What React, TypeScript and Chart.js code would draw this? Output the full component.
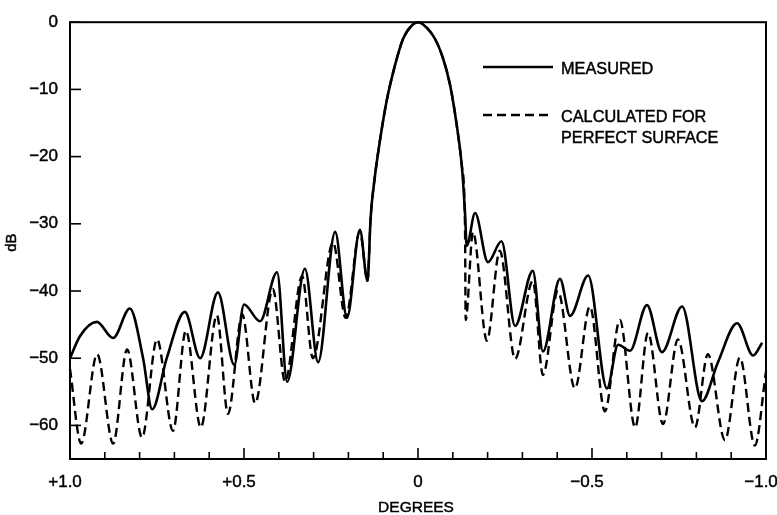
import React, { useEffect, useRef } from 'react';
import { Chart, registerables } from 'chart.js';

Chart.register(...registerables);

// Antenna pattern: degrees off axis (left = +1.0, right = -1.0) and level in dB
const measuredDeg = [
  1.0, 0.971, 0.923, 0.876, 0.828, 0.79, 0.764, 0.722, 0.67, 0.626, 0.575, 0.528, 0.5, 0.454,
  0.405, 0.376, 0.325, 0.287, 0.238, 0.204, 0.167, 0.145,
  0.136, 0.124, 0.109, 0.09, 0.066, 0.043, 0.014, 0, -0.014, -0.049, -0.072, -0.092, -0.111,
  -0.126, -0.135, -0.14,
  -0.164, -0.201, -0.24, -0.279, -0.33, -0.359, -0.408, -0.437, -0.489, -0.543, -0.575, -0.609,
  -0.658, -0.701, -0.759, -0.816, -0.862, -0.917, -0.963, -0.989,
];
const measuredDb = [
  -50, -46.7, -44.6, -47, -42.6, -50, -57.6, -50, -43.1, -50, -40.2, -51, -42, -44.5,
  -37.2, -53.5, -36.7, -50.6, -31.2, -44, -30.9, -38.5,
  -29, -23, -17.5, -11.7, -6.4, -2.5, -0.3, 0, -0.3, -2.5, -5.4, -9.3, -15.2,
  -21.4, -28.3, -33.3,
  -28.4, -35.7, -32.6, -45.2, -37, -49, -38.2, -43.7, -37.7, -54.5, -48, -48.9,
  -42.1, -49.1, -42.3, -56.4, -50.6, -44.8, -49.6, -47.7,
];

const calculatedDeg = [
  1.0, 0.968, 0.922, 0.876, 0.836, 0.793, 0.75, 0.704, 0.667, 0.624, 0.578, 0.546, 0.505, 0.468,
  0.417, 0.382, 0.333, 0.302, 0.244, 0.208, 0.167, 0.145,
  0.136, 0.124, 0.109, 0.09, 0.066, 0.043, 0.014, 0, -0.014, -0.049, -0.072, -0.092, -0.111,
  -0.126, -0.135, -0.137,
  -0.158, -0.198, -0.235, -0.279, -0.33, -0.359, -0.402, -0.451, -0.494, -0.537, -0.58, -0.624,
  -0.661, -0.704, -0.747, -0.796, -0.833, -0.882, -0.925, -0.968, -1.0,
];
const calculatedDb = [
  -51.6, -62.7, -49.4, -62.7, -48.7, -61.8, -47.2, -60.8, -45.9, -60.3, -43.6, -58.3, -43.5, -56.7,
  -39.7, -53.5, -37.8, -50, -32.8, -44, -31.2, -38.5,
  -29, -23, -17.5, -11.7, -6.4, -2.5, -0.3, 0, -0.3, -2.5, -5.4, -9.3, -15.2,
  -21.4, -30, -44.3,
  -31.2, -47.4, -34, -50.1, -38.5, -52.5, -40, -54.5, -42.3, -57.9, -44.3, -60.3,
  -46.2, -59.8, -47.2, -60.3, -49.4, -62.2, -49.9, -63, -52,
];

const xTickValues = [1.0, 0.9, 0.8, 0.7, 0.6, 0.5, 0.4, 0.3, 0.2, 0.1, 0, -0.1, -0.2, -0.3, -0.4, -0.5, -0.6, -0.7, -0.8, -0.9, -1.0];
const xLabelValues = [1.0, 0.5, 0, -0.5, -1.0];
const xLabelSigns = ['+', '+', '', '\u2212', '\u2212'];
const xLabelNums = ['1.0', '0.5', '0', '0.5', '1.0'];
const yTickValues = [0, -10, -20, -30, -40, -50, -60];

const xTitle = 'DEGREES';
const yTitle = 'dB';
const legendMeasured = ['MEASURED'];
const legendCalculated = ['CALCULATED FOR', 'PERFECT SURFACE'];

const FONT = '"Liberation Sans", Arial, Helvetica, sans-serif';

function boldText(ctx: CanvasRenderingContext2D, text: string, x: number, y: number) {
  ctx.fillText(text, x, y);
  ctx.strokeText(text, x, y);
}

const decorPlugin = {
  id: 'decor',
  afterDraw(chart: any) {
    const { ctx, chartArea, scales } = chart;
    const { left, right, top, bottom } = chartArea;
    const x = scales.x;
    const y = scales.y;
    ctx.save();
    ctx.strokeStyle = '#000';
    ctx.fillStyle = '#000';
    ctx.setLineDash([]);
    // frame
    ctx.lineWidth = 2;
    ctx.strokeRect(left, top, right - left, bottom - top);
    // x tick marks (inward)
    ctx.lineWidth = 1.6;
    xTickValues.forEach((v) => {
      const px = x.getPixelForValue(v);
      const major = Math.abs(v * 2 - Math.round(v * 2)) < 1e-6;
      const len = major ? 11 : 7;
      ctx.beginPath();
      ctx.moveTo(px, bottom);
      ctx.lineTo(px, bottom - len);
      ctx.stroke();
    });
    // y tick marks (inward)
    yTickValues.forEach((v) => {
      const py = y.getPixelForValue(v);
      ctx.beginPath();
      ctx.moveTo(left, py);
      ctx.lineTo(left + 11, py);
      ctx.stroke();
    });
    ctx.lineWidth = 0.45;
    // x labels: number centred on tick, sign hanging to the left
    ctx.font = `17px ${FONT}`;
    ctx.textAlign = 'left';
    ctx.textBaseline = 'alphabetic';
    xLabelValues.forEach((v, i) => {
      const px = x.getPixelForValue(v);
      const nw = ctx.measureText(xLabelNums[i]).width;
      const sw = xLabelSigns[i] ? ctx.measureText(xLabelSigns[i]).width : 0;
      boldText(ctx, xLabelSigns[i] + xLabelNums[i], px - nw / 2 - sw, bottom + 28);
    });
    // x title
    ctx.font = `15.5px ${FONT}`;
    ctx.textAlign = 'center';
    boldText(ctx, xTitle, (left + right) / 2 - 2, bottom + 53);
    // y title
    ctx.save();
    ctx.translate(12, (top + bottom) / 2 + 2);
    ctx.rotate(-Math.PI / 2);
    ctx.font = `15px ${FONT}`;
    ctx.textAlign = 'center';
    ctx.textBaseline = 'middle';
    boldText(ctx, yTitle, 0, 0);
    ctx.restore();
    // legend
    const lx0 = 483;
    const lx1 = 553;
    ctx.lineWidth = 2.6;
    ctx.beginPath();
    ctx.moveTo(lx0, 67);
    ctx.lineTo(lx1, 67);
    ctx.stroke();
    ctx.setLineDash([9, 5]);
    ctx.beginPath();
    ctx.moveTo(lx0, 115);
    ctx.lineTo(lx1, 115);
    ctx.stroke();
    ctx.setLineDash([]);
    ctx.lineWidth = 0.45;
    ctx.font = `16.3px ${FONT}`;
    ctx.textAlign = 'left';
    ctx.textBaseline = 'alphabetic';
    boldText(ctx, legendMeasured[0], 561, 74);
    boldText(ctx, legendCalculated[0], 561, 122);
    boldText(ctx, legendCalculated[1], 561, 143);
    ctx.restore();
  },
};

export default function App() {
  const ref = useRef<HTMLCanvasElement | null>(null);
  useEffect(() => {
    if (!ref.current) return;
    const measured = measuredDeg.map((d, i) => ({ x: d, y: measuredDb[i] }));
    const calculated = calculatedDeg.map((d, i) => ({ x: d, y: calculatedDb[i] }));
    const chart = new Chart(ref.current, {
      type: 'line',
      data: {
        datasets: [
          {
            label: 'MEASURED',
            data: measured,
            borderColor: '#000',
            borderWidth: 2.6,
            pointRadius: 0,
            cubicInterpolationMode: 'monotone',
            clip: 6,
          } as any,
          {
            label: 'CALCULATED FOR PERFECT SURFACE',
            data: calculated,
            borderColor: '#000',
            borderWidth: 2.4,
            borderDash: [9, 5],
            pointRadius: 0,
            cubicInterpolationMode: 'monotone',
            clip: 6,
          } as any,
        ],
      },
      options: {
        animation: false,
        responsive: false,
        maintainAspectRatio: false,
        layout: { padding: { top: 13, right: 11, left: 0, bottom: 0 } },
        plugins: { legend: { display: false }, tooltip: { enabled: false } },
        scales: {
          x: {
            type: 'linear',
            min: -1,
            max: 1,
            reverse: true,
            grid: { display: false, drawTicks: false },
            border: { display: false },
            ticks: { display: false },
            afterBuildTicks: (s: any) => {
              s.ticks = xTickValues.map((v) => ({ value: v }));
            },
            afterFit: (s: any) => {
              s.height = 56;
              s.paddingLeft = 0;
              s.paddingRight = 0;
            },
          },
          y: {
            type: 'linear',
            min: -65,
            max: 0,
            grid: { display: false, drawTicks: false },
            border: { display: false },
            ticks: {
              color: '#000',
              padding: 12,
              textStrokeColor: '#000',
              textStrokeWidth: 0.45,
              font: { family: FONT, size: 17 },
              callback: (v: any) => (Number(v) === 0 ? '0' : '\u2212' + Math.abs(Number(v))),
            },
            afterBuildTicks: (s: any) => {
              s.ticks = yTickValues.map((v) => ({ value: v }));
            },
            afterFit: (s: any) => {
              s.width = 70;
            },
          },
        },
      } as any,
      plugins: [decorPlugin],
    });
    return () => chart.destroy();
  }, []);
  return (
    <div style={{ position: 'absolute', left: 0, top: 0, width: 777, height: 515, background: '#fff' }}>
      <canvas ref={ref} width={777} height={515} style={{ display: 'block' }} />
    </div>
  );
}
